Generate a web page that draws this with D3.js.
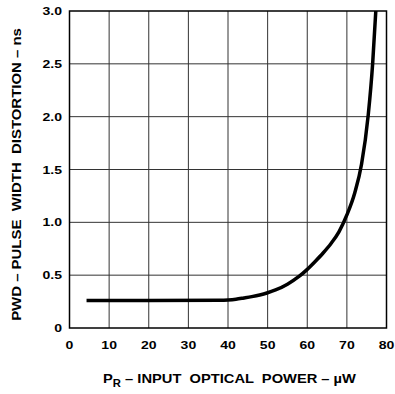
<!DOCTYPE html>
<html><head><meta charset="utf-8">
<script src="https://cdn.jsdelivr.net/npm/d3@7"></script>
<style>body{margin:0;background:#fff}svg{display:block}</style>
</head><body>
<script>
const powerUW = [4.3, 20, 38, 40, 42, 44, 46, 48, 50, 52, 55, 58, 60, 62, 64, 66, 68, 70, 72, 73.7, 75.4, 76.5, 77.3];
const pwdNs   = [0.26, 0.26, 0.262, 0.265, 0.272, 0.284, 0.297, 0.313, 0.334, 0.36, 0.415, 0.49, 0.555, 0.63, 0.71, 0.80, 0.91, 1.07, 1.28, 1.55, 2.02, 2.5, 3.0];
const xTicks = [0, 10, 20, 30, 40, 50, 60, 70, 80];
const yTicks = [0, 0.5, 1.0, 1.5, 2.0, 2.5, 3.0];
const yTickLabels = ["0", "0.5", "1.0", "1.5", "2.0", "2.5", "3.0"];

const W = 395, H = 394;
const svg = d3.select("body").append("svg").attr("width", W).attr("height", H);
const x = d3.scaleLinear().domain([0, 80]).range([69.5, 386.5]);
const y = d3.scaleLinear().domain([0, 3]).range([328, 11]);
const font = "'Liberation Sans', Arial, sans-serif";
const SX = 1.22;

// grid
svg.append("g").selectAll("line").data(xTicks.slice(1, -1)).join("line")
  .attr("x1", d => x(d)).attr("x2", d => x(d)).attr("y1", y(0)).attr("y2", y(3))
  .attr("stroke", "#333").attr("stroke-width", 1);
svg.append("g").selectAll("line").data(yTicks.slice(1, -1)).join("line")
  .attr("x1", x(0)).attr("x2", x(80)).attr("y1", d => y(d)).attr("y2", d => y(d))
  .attr("stroke", "#333").attr("stroke-width", 1);
svg.append("rect").attr("x", x(0)).attr("y", y(3)).attr("width", x(80) - x(0)).attr("height", y(0) - y(3))
  .attr("fill", "none").attr("stroke", "#000").attr("stroke-width", 1.5);

// tick labels (stretched horizontally like the reference)
svg.append("g").selectAll("text").data(xTicks).join("text")
  .attr("transform", d => `translate(${x(d)},348.5) scale(${SX},1)`)
  .attr("text-anchor", "middle").attr("font-family", font).attr("font-weight", "bold").attr("font-size", 11.5)
  .text(d3.format("d"));
svg.append("g").selectAll("text").data(yTicks).join("text")
  .attr("transform", d => `translate(62,${y(d) + 4}) scale(${SX},1)`)
  .attr("text-anchor", "end").attr("font-family", font).attr("font-weight", "bold").attr("font-size", 11.5)
  .text((d, i) => yTickLabels[i]);

// curve
const line = d3.line().x((d, i) => x(powerUW[i])).y(d => y(d)).curve(d3.curveMonotoneX);
svg.append("path").attr("d", line(pwdNs)).attr("fill", "none").attr("stroke", "#000")
  .attr("stroke-width", 3.5).attr("stroke-linejoin", "round");

// titles
svg.append("text").attr("transform", `translate(21,${(y(0) + y(3)) / 2 + 5}) rotate(-90) scale(1.15,1)`)
  .attr("text-anchor", "middle").attr("font-family", font).attr("font-weight", "bold").attr("font-size", 13)
  .style("white-space", "pre").text("PWD – PULSE  WIDTH  DISTORTION – ns");

const xt = svg.append("text").attr("transform", `translate(229.5,383) scale(1.13,1)`).attr("text-anchor", "middle")
  .attr("font-family", font).attr("font-weight", "bold").attr("font-size", 13).style("white-space", "pre");
xt.append("tspan").text("P");
xt.append("tspan").attr("dy", 3.5).attr("font-size", 10).text("R");
xt.append("tspan").attr("dy", -3.5).text(" – INPUT  OPTICAL  POWER – µW");
</script>
</body></html>
